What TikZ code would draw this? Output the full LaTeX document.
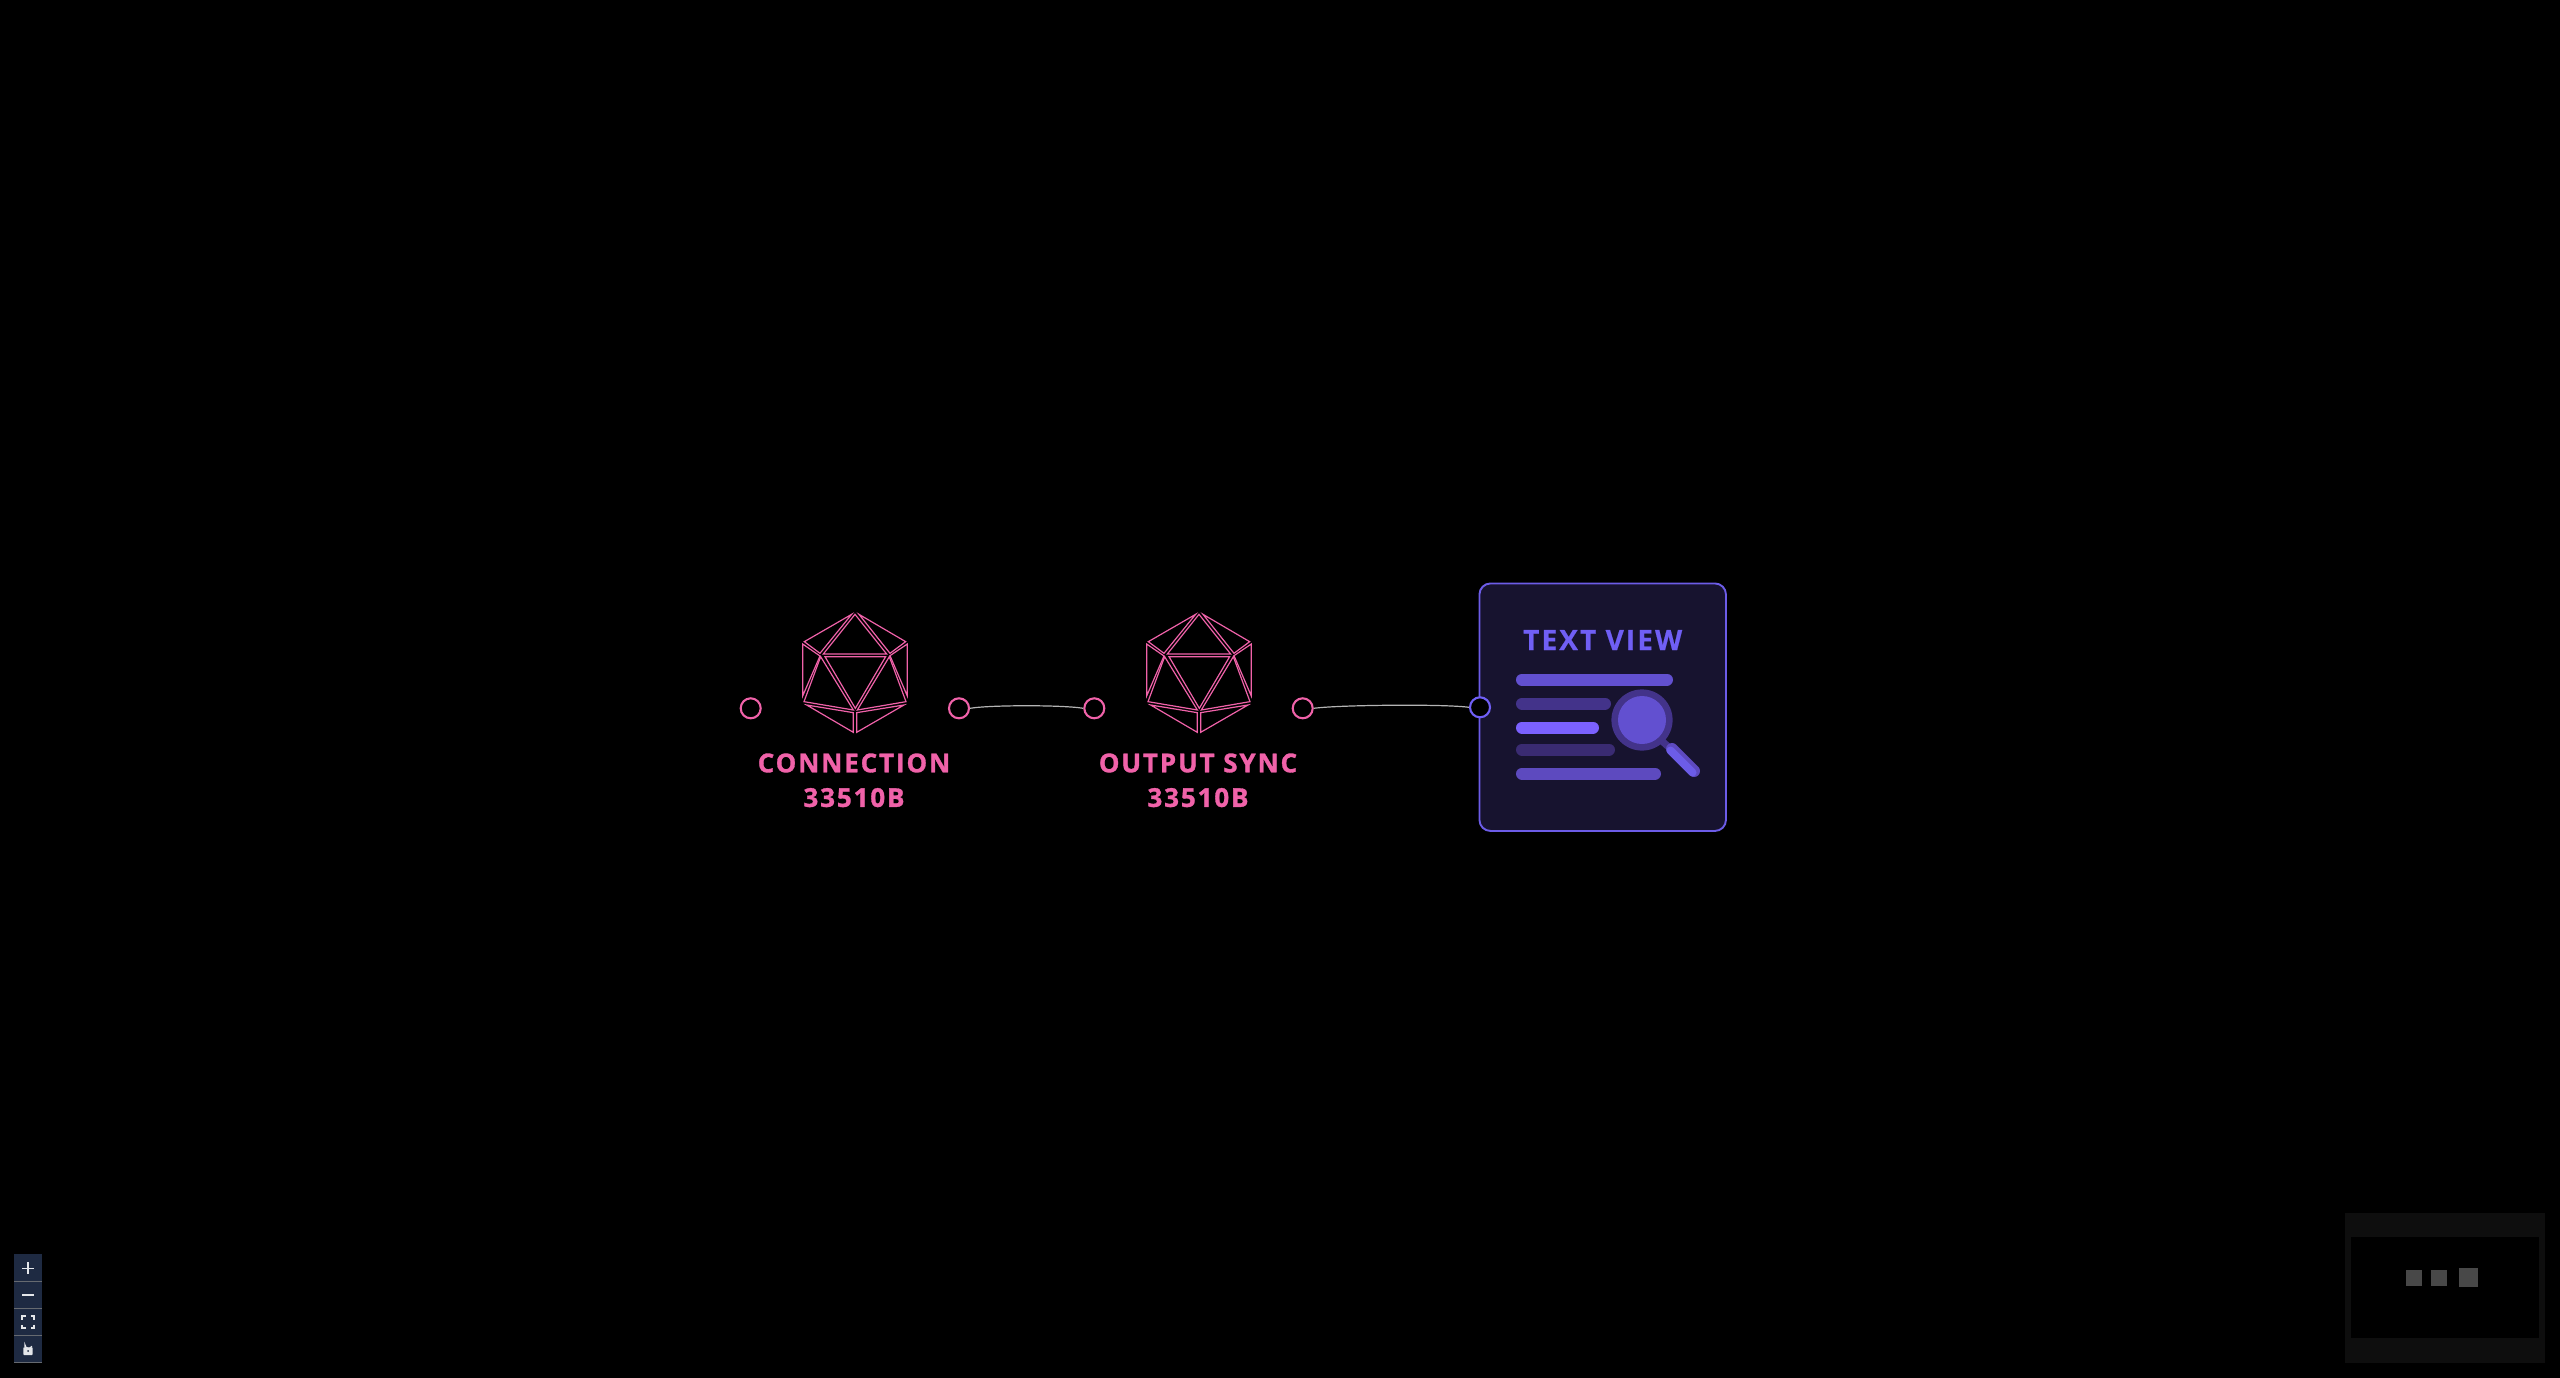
\documentclass[tikz,border=0pt]{standalone}
\usepackage{fontspec}
\setmainfont{Open Sans}
\newfontfamily\lblfont[LetterSpace=7.2,BoldFeatures={FakeBold=1.2}]{Open Sans}
\newfontfamily\ttlfont[LetterSpace=7.5,BoldFeatures={FakeBold=0.5}]{Open Sans}
\definecolor{pinkc}{HTML}{F062A9}
\definecolor{violetc}{HTML}{6C5CE7}
\definecolor{titlec}{HTML}{705FF5}
\definecolor{cardbg}{HTML}{17132F}
\definecolor{barA}{HTML}{6250D0}
\definecolor{barB}{HTML}{43338A}
\definecolor{barC}{HTML}{7B61FF}
\definecolor{barD}{HTML}{3A2B72}
\definecolor{barE}{HTML}{5D4ABF}
\definecolor{toolc}{HTML}{1E2A42}
\definecolor{toolsep}{HTML}{666A70}
\definecolor{toolfg}{HTML}{E4E6EA}
\definecolor{mapouter}{HTML}{0E0E0E}
\definecolor{mapsq}{HTML}{484848}
\definecolor{wirec}{HTML}{B4B4B4}
\tikzset{
  portp/.style={circle,draw=pinkc,line width=2.1pt,fill=black,minimum size=20pt,inner sep=0pt},
  portv/.style={circle,draw=titlec,line width=2.1pt,fill=black,minimum size=20pt,inner sep=0pt},
  wire/.style={draw=wirec,line width=1.2pt},
  lbl/.style={text=pinkc,align=center,inner sep=0pt,font=\lblfont\bfseries\fontsize{26}{34.6}\selectfont},
  facet/.style={draw=pinkc,line width=1.2pt,line join=miter},
  bar/.style={line width=12pt,line cap=round},
  tool/.style={fill=toolc,draw=none},
  toolline/.style={draw=toolfg,line width=1.6pt},
}
\newcommand{\icosa}[2]{%
\begin{scope}[shift={(#1,#2)},x=0.3333pt,y=-0.3333pt]
  \draw[facet] (395,73)--(253,155)--(300,190)--cycle;
  \draw[facet] (405,73)--(310,192)--(500,192)--cycle;
  \draw[facet] (417,73)--(557,155)--(510,190)--cycle;
  \draw[facet] (248,162)--(300,198)--(248,318)--cycle;
  \draw[facet] (302,200)--(252,335)--(400,360)--cycle;
  \draw[facet] (315,200)--(497,200)--(406,355)--cycle;
  \draw[facet] (508,200)--(412,360)--(558,335)--cycle;
  \draw[facet] (562,162)--(510,197)--(562,318)--cycle;
  \draw[facet] (260,345)--(400,368)--(400,427)--cycle;
  \draw[facet] (552,345)--(410,368)--(410,427)--cycle;
\end{scope}}
\begin{document}
\begin{tikzpicture}[x=1pt,y=-1pt]
\useasboundingbox (0,0) rectangle (2560,1378);
\fill[black] (0,0) rectangle (2560,1378);

\icosa{720}{590}
\icosa{1064}{590}
\node[lbl] (lblA) at (854,780.3) {CONNECTION\\33510B};
\node[lbl] (lblB) at (1198,780.3) {OUTPUT SYNC\\33510B};

% card
\node[draw=violetc,line width=1.9pt,fill=cardbg,rounded corners=11pt,minimum width=246.5pt,minimum height=247.5pt,inner sep=0pt] (card) at (1602.7,707.2) {};
\node[text=titlec,inner sep=0pt,anchor=base,font=\ttlfont\bfseries\fontsize{28}{28}\selectfont] (cardtitle) at (1602.7,650) {TEXT VIEW};

% bars
\draw[bar,draw=barA] (1522,679.5) -- (1667,679.5);
\draw[bar,draw=barB] (1522,703.5) -- (1605,703.5);
\draw[bar,draw=barC] (1522,727.5) -- (1593,727.5);
\draw[bar,draw=barD] (1522,749.5) -- (1609,749.5);
\draw[bar,draw=barE] (1522,773.5) -- (1655,773.5);

% magnifier
\draw[draw=barB,line width=7pt] (1662,741) -- (1674,752);
\fill[barB] (1642,720) circle (30.6);
\fill[barA] (1642,720) circle (24);
\draw[draw=barE,line width=12pt,line cap=round] (1672,749) -- (1694,771);
\draw[draw=violetc,line width=8pt,line cap=round] (1670.5,750.5) -- (1692.5,772.5);

% ports
\node[portp] (a1) at (750.7,708.3) {};
\node[portp] (a2) at (959,708.3) {};
\node[portp] (b1) at (1094.3,708.3) {};
\node[portp] (b2) at (1302.7,708.3) {};
\node[portv] (c1) at (1480,707.3) {};

% connectors
\draw[wire] (a2.east) .. controls +(20,-3.4) and +(-20,-3.4) .. (b1.west);
\draw[wire] (b2.east) .. controls +(25,-3.4) and +(-25,-3.4) .. (c1.west);

% toolbar
\node[tool,minimum width=27.7pt,minimum height=27pt,inner sep=0pt] (tplus) at (28.2,1267.3) {};
\node[tool,minimum width=27.7pt,minimum height=27pt,inner sep=0pt] (tminus) at (28.2,1294.3) {};
\node[tool,minimum width=27.7pt,minimum height=27pt,inner sep=0pt] (tfit) at (28.2,1321.3) {};
\node[tool,minimum width=27.7pt,minimum height=27pt,inner sep=0pt] (tlock) at (28.2,1348.3) {};
\foreach \n in {tplus,tminus,tfit,tlock}
  \draw[toolsep,line width=1pt] (\n.south west) -- (\n.south east);
\draw[toolline] (22,1268.3) -- (34,1268.3) (28,1262.3) -- (28,1274.3);
\draw[toolline] (22,1295) -- (34,1295);
\draw[toolline] (22,1319.5) -- (22,1316) -- (25.5,1316) (30.5,1316) -- (34,1316) -- (34,1319.5)
  (34,1324.5) -- (34,1328) -- (30.5,1328) (25.5,1328) -- (22,1328) -- (22,1324.5);
\draw[draw=toolfg,line width=1.3pt] (25,1347.5) -- (25,1345) arc[start angle=180,end angle=20,radius=3.5];
\fill[toolfg,rounded corners=0.8pt] (23.3,1347.3) rectangle (32.7,1355);
\fill[toolc] (28.1,1351) circle (1);

% minimap
\node[fill=mapouter,minimum width=200pt,minimum height=149.4pt,inner sep=0pt] (mapo) at (2445,1288) {};
\node[fill=black,minimum width=187.7pt,minimum height=100.7pt,inner sep=0pt] (mapi) at (2445.2,1287.7) {};
\node[fill=mapsq,minimum size=16pt,inner sep=0pt] (m1) at (2414,1278) {};
\node[fill=mapsq,minimum size=16pt,inner sep=0pt] (m2) at (2439,1278) {};
\node[fill=mapsq,minimum size=19pt,inner sep=0pt] (m3) at (2468.5,1277.5) {};
\end{tikzpicture}
\end{document}
